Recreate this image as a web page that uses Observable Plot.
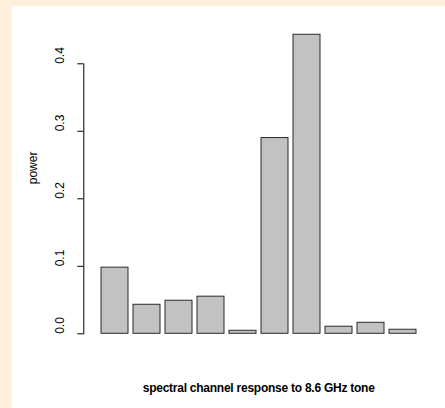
<!DOCTYPE html>
<html><head><meta charset="utf-8">
<script src="https://cdn.jsdelivr.net/npm/d3@7"></script>
<script src="https://cdn.jsdelivr.net/npm/@observablehq/plot@0.6"></script>
<style>
html,body{margin:0;padding:0;background:#FEF0DC;overflow:hidden;}
#chart{position:absolute;left:12px;top:6px;width:433px;height:402px;background:#fff;}
#chart svg{display:block;}
</style></head><body><div id="chart"></div>
<script>
const channels = [1, 2, 3, 4, 5, 6, 7, 8, 9, 10];
const power = [0.098, 0.043, 0.049, 0.055, 0.0045, 0.290, 0.443, 0.0105, 0.0163, 0.006];
const yTicks = [0, 0.1, 0.2, 0.3, 0.4];
const xLabel = "spectral channel response to 8.6 GHz tone";
const yLabel = "power";

const data = channels.map((c, i) => ({channel: c, power: power[i]}));
const ymax = d3.max(power);
const ymid = (-(ymax * 0.04) + ymax * 1.04) / 2;
const fmt = d3.format(".1f");

const plot = Plot.plot({
  width: 433, height: 402,
  marginLeft: 71.3, marginRight: 12, marginTop: 57.3, marginBottom: 74.7,
  style: {background: "#fff", fontFamily: "'Liberation Sans', Arial, sans-serif", fontSize: "12px", color: "#000", overflow: "visible"},
  x: {type: "band", domain: channels, range: [84.3, 407.7], paddingInner: 1/6, paddingOuter: 0, axis: null},
  y: {domain: [0, 0.4], range: [327.3, 57.3]},
  marks: [
    Plot.barY(data, {x: "channel", y: "power", fill: "#c2c2c2", stroke: "#2b2b2b", strokeWidth: 1}),
    Plot.frame({anchor: "left", stroke: "#000"}),
    Plot.axisY(yTicks, {tickSize: 6, tickFormat: () => "", stroke: "#000", label: null}),
    Plot.text(yTicks, {y: d => d, text: d => fmt(d), rotate: -90, frameAnchor: "left", dx: -24, fill: "#000", fontSize: 12}),
    Plot.text([yLabel], {y: () => ymid, text: d => d, rotate: -90, frameAnchor: "left", dx: -50.3, fill: "#000", fontSize: 12}),
    Plot.text([xLabel], {text: d => d, frameAnchor: "bottom", dy: 58.4, fill: "#000", fontSize: 12, fontWeight: "bold", style: "letter-spacing:-0.25px"})
  ]
});
document.getElementById("chart").appendChild(plot);
// apply letter spacing to the title text
plot.querySelectorAll("text").forEach(t => { if (t.textContent === xLabel) t.setAttribute("letter-spacing", "-0.25"); });
</script>
</body></html>
